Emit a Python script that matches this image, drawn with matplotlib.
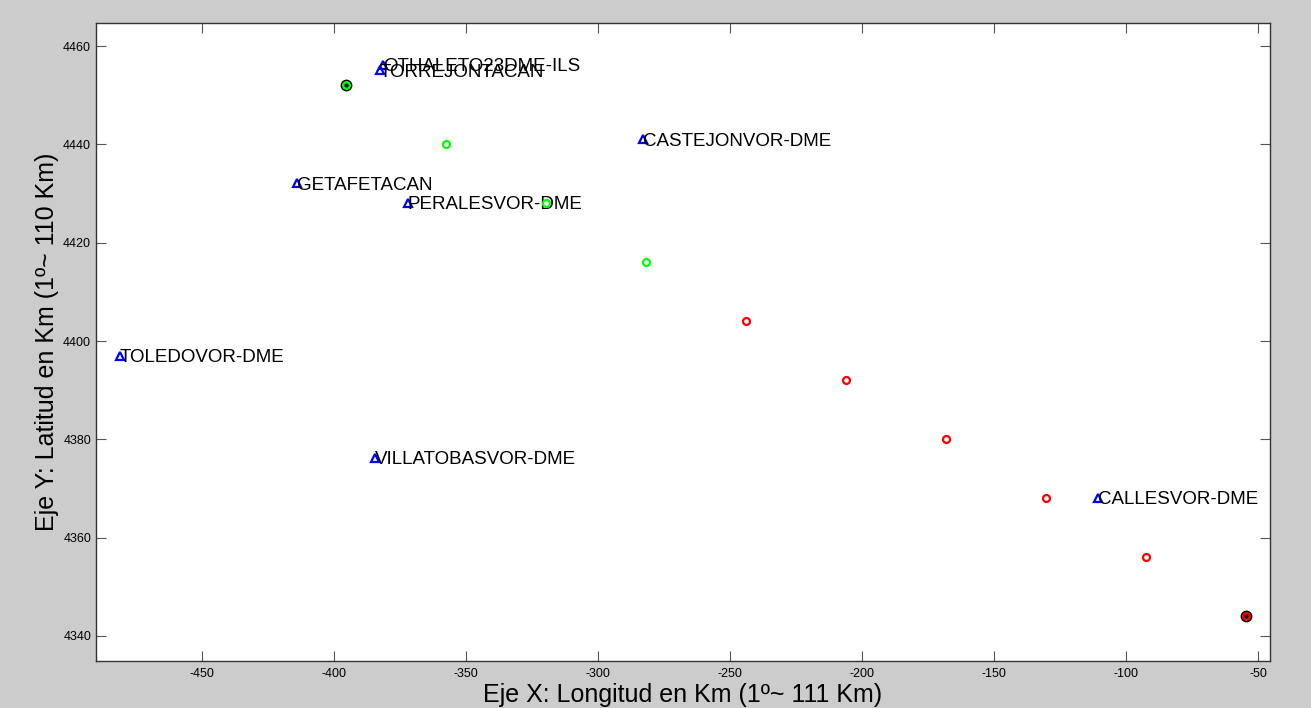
import matplotlib
matplotlib.use("Agg")
import matplotlib.pyplot as plt

plt.rcParams['font.family'] = ['Liberation Sans', 'DejaVu Sans']
plt.rcParams['axes.unicode_minus'] = False

station_names = ["OTHALETO23DME-ILS", "TORREJONTACAN", "CASTEJONVOR-DME", "GETAFETACAN",
                 "PERALESVOR-DME", "TOLEDOVOR-DME", "VILLATOBASVOR-DME", "CALLESVOR-DME"]
station_x = [-381.6, -382.7, -283.1, -414.1, -372.1, -481.2, -384.6, -110.7]
station_y = [4456.2, 4455.1, 4441.1, 4432.1, 4428.1, 4397.0, 4376.2, 4368.1]

green_x = [-395.6, -357.6, -319.8, -281.9]
green_y = [4452, 4440, 4428, 4416]
red_x = [-244.0, -206.1, -168.2, -130.3, -92.4, -54.5]
red_y = [4404, 4392, 4380, 4368, 4356, 4344]

xticks = [-450, -400, -350, -300, -250, -200, -150, -100, -50]
yticks = [4340, 4360, 4380, 4400, 4420, 4440, 4460]

fig = plt.figure(figsize=(13.11, 7.08), dpi=100, facecolor='#cccccc')
ax = fig.add_axes([0.0732, 0.0664, 0.8955, 0.9011])
ax.set_facecolor('white')

ax.plot(station_x, station_y, linestyle='none', marker='^', markersize=6,
        markerfacecolor='none', markeredgecolor='#0000ff', markeredgewidth=1.6, zorder=3)
for name, x, y in zip(station_names, station_x, station_y):
    ax.text(x, y, name, fontsize=13.5, ha='left', va='center_baseline', color='black', zorder=4)

ax.plot(green_x, green_y, linestyle='none', marker='o', markersize=5,
        markerfacecolor='none', markeredgecolor='#00ff00', markeredgewidth=1.6, zorder=5)
ax.plot(red_x, red_y, linestyle='none', marker='o', markersize=5,
        markerfacecolor='none', markeredgecolor='#ff0000', markeredgewidth=1.6, zorder=5)
ax.plot(green_x[0], green_y[0], linestyle='none', marker='o', markersize=7.5,
        markerfacecolor='#00ff00', markeredgecolor='black', markeredgewidth=1.0, zorder=6)
ax.plot(green_x[0], green_y[0], linestyle='none', marker='o', markersize=2,
        markerfacecolor='black', markeredgecolor='black', zorder=7)
ax.plot(red_x[-1], red_y[-1], linestyle='none', marker='o', markersize=7.5,
        markerfacecolor='#ff0000', markeredgecolor='black', markeredgewidth=1.0, zorder=6)
ax.plot(red_x[-1], red_y[-1], linestyle='none', marker='o', markersize=2,
        markerfacecolor='black', markeredgecolor='black', zorder=7)

ax.set_xlim(-490.3, -45.5)
ax.set_ylim(4334.9, 4464.7)
ax.set_xticks(xticks)
ax.set_yticks(yticks)
ax.tick_params(direction='in', top=True, right=True, length=7, width=0.8,
               color='#555555', labelsize=9)
ax.tick_params(axis='x', pad=5)
for s in ax.spines.values():
    s.set_color('#333333')
    s.set_linewidth(1.0)

ax.set_xlabel("Eje X: Longitud en Km (1º~ 111 Km)", fontsize=18, labelpad=2)
ax.set_ylabel("Eje Y: Latitud en Km (1º~ 110 Km)", fontsize=18, labelpad=3)

fig.savefig("out.png", dpi=100, facecolor=fig.get_facecolor())
